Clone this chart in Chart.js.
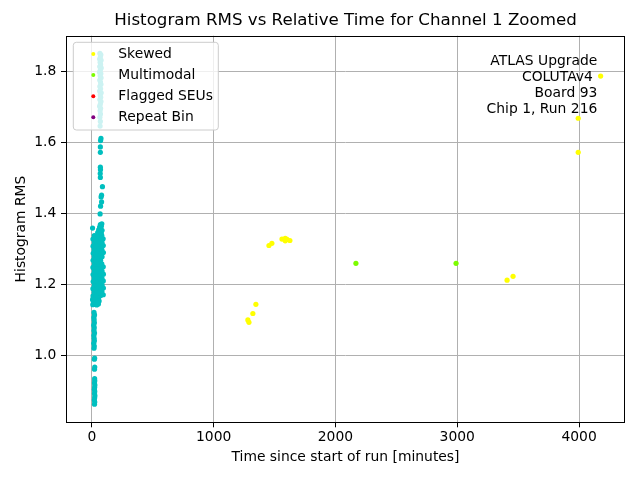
<!DOCTYPE html>
<html>
<head>
<meta charset="utf-8">
<script src="https://cdn.jsdelivr.net/npm/chart.js@4/dist/chart.umd.min.js"></script>
<style>
  body { margin: 0; background: #fff; }
  canvas { display: block; }
</style>
</head>
<body>
<canvas id="chart" width="640" height="480" style="width:640px;height:480px"></canvas>
<script>
// [time in minutes, histogram RMS] for the unflagged bins
const lowTail = [
  [22, 0.862], [24, 0.868], [21, 0.874], [23, 0.880], [25, 0.886], [22, 0.892], [24, 0.898],
  [21, 0.904], [23, 0.910], [25, 0.916], [22, 0.922], [24, 0.928], [23, 0.934],
  [22, 0.961], [24, 0.967], [21, 0.989], [23, 0.992],
];
const midTail = [
  [18, 1.020], [20, 1.026], [16, 1.034], [21, 1.041], [19, 1.048], [17, 1.056], [22, 1.063], [18, 1.070],
  [20, 1.078], [16, 1.085], [21, 1.092], [19, 1.100], [17, 1.107], [22, 1.114], [18, 1.121],
];
const blockBase = [
  [8, 1.143], [24, 1.144], [40, 1.142], [54, 1.145], [14, 1.150], [32, 1.151], [48, 1.149], [60, 1.153],
  [6, 1.157], [20, 1.158], [38, 1.157], [56, 1.160], [12, 1.163], [28, 1.164], [46, 1.162],
];
const mainBlock = [
  [10, 1.168], [31, 1.170], [52, 1.167], [73, 1.169], [94, 1.171],
  [20, 1.178], [41, 1.179], [62, 1.177], [83, 1.180],
  [9, 1.188], [30, 1.187], [52, 1.189], [73, 1.188], [95, 1.190],
  [21, 1.198], [42, 1.199], [62, 1.197], [84, 1.198],
  [11, 1.208], [31, 1.209], [53, 1.207], [74, 1.208], [94, 1.210],
  [19, 1.218], [40, 1.217], [61, 1.219], [83, 1.218],
  [10, 1.228], [32, 1.229], [52, 1.227], [72, 1.228], [95, 1.229],
  [20, 1.238], [42, 1.237], [63, 1.239], [84, 1.238],
  [9, 1.248], [30, 1.249], [51, 1.247], [73, 1.248], [94, 1.250],
  [21, 1.258], [41, 1.257], [62, 1.259], [82, 1.258],
  [10, 1.268], [31, 1.269], [52, 1.267], [72, 1.268],
  [20, 1.278], [40, 1.277], [61, 1.279], [84, 1.278],
  [11, 1.288], [30, 1.289], [53, 1.287], [73, 1.288], [95, 1.290],
  [19, 1.298], [42, 1.299], [62, 1.297], [83, 1.298],
  [10, 1.308], [31, 1.309], [51, 1.307], [74, 1.308], [94, 1.310],
  [21, 1.318], [41, 1.317], [63, 1.319], [84, 1.318],
  [9, 1.328], [30, 1.329], [52, 1.327], [73, 1.328], [93, 1.329],
  [20, 1.338], [42, 1.337], [61, 1.339], [82, 1.338],
];
const blockTop = [
  [48, 1.346], [62, 1.348], [78, 1.345], [56, 1.354], [70, 1.356], [84, 1.353],
  [64, 1.362], [78, 1.364], [70, 1.369], [82, 1.371], [6, 1.359],
];
const upperColumn = [
  [68, 1.399], [72, 1.421], [80, 1.433], [76, 1.447], [80, 1.452], [87, 1.476], [70, 1.502],
  [69, 1.513], [71, 1.524], [70, 1.531], [70, 1.573], [70, 1.588], [72, 1.606], [75, 1.612],
];
const topColumn = [
  [66, 1.852], [74, 1.848], [70, 1.842], [64, 1.836], [76, 1.833], [68, 1.827], [72, 1.821],
  [65, 1.815], [77, 1.811], [70, 1.805], [63, 1.799], [74, 1.795], [68, 1.789], [76, 1.783],
  [65, 1.777], [71, 1.771], [75, 1.765], [66, 1.759], [72, 1.752], [64, 1.746], [77, 1.741],
  [69, 1.735], [73, 1.728], [66, 1.722], [75, 1.716], [70, 1.709], [64, 1.703], [72, 1.697],
  [68, 1.690], [71, 1.681], [66, 1.672], [70, 1.660], [68, 1.647],
];

const skewedTime = [1281, 1290, 1322, 1347, 1454, 1478, 1561, 1588, 1588, 1602, 1626, 3409, 3458, 3993, 3993, 4177];
const skewedRms = [1.100, 1.093, 1.118, 1.144, 1.310, 1.316, 1.328, 1.330, 1.323, 1.327, 1.324, 1.212, 1.223, 1.669, 1.573, 1.788];
const multimodalTime = [2168, 2990];
const multimodalRms = [1.2595, 1.2595];
const flaggedTime = [];
const flaggedRms = [];
const repeatTime = [];
const repeatRms = [];

const xTicks = [0, 1000, 2000, 3000, 4000];
const yTicks = [1.0, 1.2, 1.4, 1.6, 1.8];
const noteLines = ['ATLAS Upgrade', 'COLUTAv4 ', 'Board 93', 'Chip 1, Run 216'];

const FONT = 'DejaVu Sans';
const pairs = (xs, ys) => xs.map((x, i) => ({ x, y: ys[i] }));
const normalPoints = [lowTail, midTail, blockBase, mainBlock, blockTop, upperColumn, topColumn]
  .flat()
  .map(([x, y]) => ({ x, y }));

const dot = (color) => ({
  backgroundColor: color,
  borderColor: color,
  borderWidth: 0,
  pointRadius: 2.6,
});

// matplotlib-ish frame, legend box and text block
const extras = {
  id: 'extras',
  afterDatasetsDraw(chart) {
    const { ctx, chartArea: a } = chart;
    ctx.save();

    // legend
    const items = chart.data.datasets.filter((d) => d.label);
    const lx = a.left + 7.3;
    const ly = a.top + 6.6;
    const lw = 145;
    const rowH = 21.1;
    const lh = 11.7 + rowH * (items.length - 1) + 12.7;
    const r = 3;
    ctx.beginPath();
    ctx.moveTo(lx + r, ly);
    ctx.arcTo(lx + lw, ly, lx + lw, ly + lh, r);
    ctx.arcTo(lx + lw, ly + lh, lx, ly + lh, r);
    ctx.arcTo(lx, ly + lh, lx, ly, r);
    ctx.arcTo(lx, ly, lx + lw, ly, r);
    ctx.closePath();
    ctx.fillStyle = 'rgba(255,255,255,0.8)';
    ctx.fill();
    ctx.strokeStyle = '#cccccc';
    ctx.lineWidth = 1;
    ctx.stroke();

    ctx.font = `13.89px "${FONT}"`;
    ctx.textBaseline = 'middle';
    ctx.textAlign = 'left';
    items.forEach((d, i) => {
      const y = ly + 11.7 + i * rowH;
      ctx.beginPath();
      ctx.arc(lx + 20, y, 2, 0, Math.PI * 2);
      ctx.fillStyle = d.backgroundColor;
      ctx.fill();
      ctx.fillStyle = '#000';
      ctx.fillText(d.label, lx + 45, y);
    });

    // text block, top right
    ctx.textAlign = 'right';
    noteLines.forEach((line, i) => {
      ctx.fillText(line, a.right - 27.7, a.top + 26 + i * 15.9);
    });

    // frame
    ctx.strokeStyle = '#000';
    ctx.lineWidth = 1;
    ctx.strokeRect(Math.round(a.left) + 0.5, Math.round(a.top) + 0.5,
      Math.round(a.right - a.left) - 1, Math.round(a.bottom - a.top) - 1);
    ctx.restore();
  },
};

const tickFont = { family: FONT, size: 13.89 };

new Chart(document.getElementById('chart'), {
  type: 'scatter',
  data: {
    datasets: [
      { label: 'Skewed', data: pairs(skewedTime, skewedRms), ...dot('#ffff00') },
      { label: 'Multimodal', data: pairs(multimodalTime, multimodalRms), ...dot('#7cfc00') },
      { label: 'Flagged SEUs', data: pairs(flaggedTime, flaggedRms), ...dot('#ff0000') },
      { label: 'Repeat Bin', data: pairs(repeatTime, repeatRms), ...dot('#800080') },
      { data: normalPoints, ...dot('#00bfbf') },
    ],
  },
  options: {
    responsive: false,
    animation: false,
    events: [],
    layout: { padding: { left: 0, right: 15, top: 0, bottom: 0 } },
    plugins: {
      legend: { display: false },
      tooltip: { enabled: false },
      title: {
        display: true,
        text: 'Histogram RMS vs Relative Time for Channel 1 Zoomed',
        color: '#000',
        fullSize: false,
        font: { family: FONT, size: 16.67, weight: 'normal' },
        padding: { top: 10.9, bottom: 4.8 },
      },
    },
    scales: {
      x: {
        type: 'linear',
        min: -212,
        max: 4377,
        afterBuildTicks: (scale) => { scale.ticks = xTicks.map((value) => ({ value })); },
        afterFit: (scale) => { scale.height = 57.7; },
        grid: { color: '#b0b0b0', tickColor: '#000', tickLength: 5, lineWidth: 1 },
        border: { display: false },
        ticks: { color: '#000', font: tickFont, padding: 1.3, maxRotation: 0, callback: (v) => String(v) },
        title: {
          display: true,
          text: 'Time since start of run [minutes]',
          color: '#000',
          font: tickFont,
          padding: { top: 0, bottom: 14.7 },
        },
      },
      y: {
        min: 0.811,
        max: 1.902,
        afterBuildTicks: (scale) => { scale.ticks = yTicks.map((value) => ({ value })); },
        afterFit: (scale) => { scale.width = 66; },
        grid: { color: '#b0b0b0', tickColor: '#000', tickLength: 5, lineWidth: 1 },
        border: { display: false },
        ticks: { color: '#000', font: tickFont, padding: 4.7, callback: (v) => v.toFixed(1) },
        title: {
          display: true,
          text: 'Histogram RMS',
          color: '#000',
          font: tickFont,
          padding: { top: 12.7, bottom: 0 },
        },
      },
    },
  },
  plugins: [extras],
});
</script>
</body>
</html>
